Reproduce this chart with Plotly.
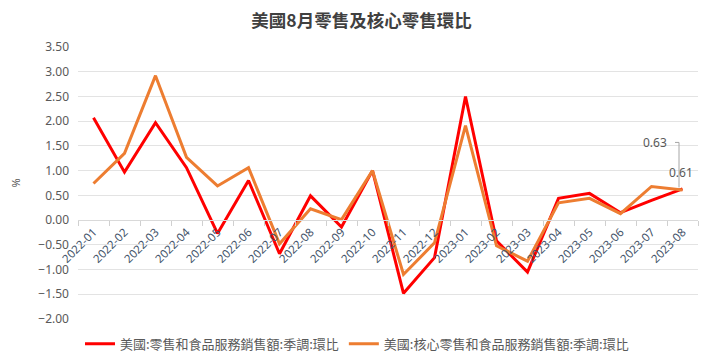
import plotly.graph_objects as go

months = ["2022-01", "2022-02", "2022-03", "2022-04", "2022-05", "2022-06", "2022-07",
          "2022-08", "2022-09", "2022-10", "2022-11", "2022-12", "2023-01", "2023-02",
          "2023-03", "2023-04", "2023-05", "2023-06", "2023-07", "2023-08"]
retail = [2.07, 0.97, 1.97, 1.06, -0.27, 0.80, -0.68, 0.49, -0.14, 1.00,
          -1.48, -0.76, 2.50, -0.42, -1.05, 0.44, 0.54, 0.15, 0.40, 0.63]
core = [0.74, 1.35, 2.92, 1.27, 0.69, 1.06, -0.48, 0.23, 0.01, 1.00,
        -1.10, -0.46, 1.91, -0.52, -0.83, 0.35, 0.44, 0.13, 0.68, 0.61]
ytick_vals = [3.5, 3.0, 2.5, 2.0, 1.5, 1.0, 0.5, 0.0, -0.5, -1.0, -1.5, -2.0]
ytick_text = ["3.50", "3.00", "2.50", "2.00", "1.50", "1.00", "0.50", "0.00",
              "\u22120.50", "\u22121.00", "\u22121.50", "\u22122.00"]
name_retail = "美國:零售和食品服務銷售額:季調:環比"
name_core = "美國:核心零售和食品服務銷售額:季調:環比"
title = "美國8月零售及核心零售環比"

# page body has an 8px default margin: size the figure to fill the rest of the window
OFF = 8
W, H = 715 - OFF, 356 - OFF
ml, mr, mt, mb = 78 - OFF, 17, 47 - OFF, 37
pw, ph = W - ml - mr, H - mt - mb
YMIN, YMAX = -2, 3.5
ppu = ph / (YMAX - YMIN)      # pixels per y unit
ppc = pw / len(months)        # pixels per category

fig = go.Figure()
fig.add_trace(go.Scatter(x=months, y=retail, mode="lines", name=name_retail,
                         line=dict(color="#FF0000", width=3)))
fig.add_trace(go.Scatter(x=months, y=core, mode="lines", name=name_core,
                         line=dict(color="#ED7D31", width=3)))

cjk = "Noto Sans CJK TC"
fig.update_layout(
    width=W, height=H,
    margin=dict(l=ml, r=mr, t=mt, b=mb, autoexpand=False),
    paper_bgcolor="white", plot_bgcolor="white",
    title=dict(text="<b>" + title + "</b>", x=0.5, xanchor="center",
               y=1 - (21 - OFF) / H, yanchor="middle", yref="container",
               font=dict(family=cjk, size=17.5, color="#404040")),
    showlegend=True,
    legend=dict(orientation="h", x=(357 - 78) / pw, xanchor="center", y=-(344 - 319.3) / ph,
                yanchor="middle", font=dict(family=cjk, size=13, color="#595959"),
                itemwidth=30, tracegroupgap=0, bgcolor="rgba(0,0,0,0)"),
    xaxis=dict(type="category", categoryorder="array", categoryarray=months,
               range=[-0.5, len(months) - 0.5], autorange=False,
               anchor="free", position=-YMIN / (YMAX - YMIN), showgrid=False,
               showline=True, linecolor="#d9d9d9", linewidth=1,
               ticks="outside", tickson="boundaries", ticklen=5, tickcolor="#d0d0d0",
               tickangle=-45, tickfont=dict(family="Noto Sans", size=11.5, color="#44546A"),
               zeroline=False),
    yaxis=dict(range=[YMIN, YMAX], tickvals=ytick_vals, ticktext=ytick_text,
               showgrid=True, gridcolor="#e3e3e3", gridwidth=1, zeroline=False,
               tickfont=dict(family="Noto Sans", size=12, color="#595959"),
               ticks="", ticklabelstandoff=8,
               title=dict(text="%", font=dict(family="Noto Sans", size=11, color="#595959"),
                          standoff=22)),
)

# data labels for last point
last = len(months) - 1
fig.add_annotation(x=months[-1], y=retail[-1], text="0.63", showarrow=False,
                   xshift=-27.5, yshift=46.5, font=dict(family="Noto Sans", size=12, color="#595959"))
fig.add_annotation(x=months[-1], y=core[-1], text="0.61", showarrow=False,
                   xshift=-1.5, yshift=17.5, font=dict(family="Noto Sans", size=12, color="#595959"))
lx = last - 3.5 / ppc
fig.add_shape(type="path", xref="x", yref="y",
              path=(f"M {last - 7.5 / ppc},{retail[-1] + 46.5 / ppu} "
                    f"L {lx},{retail[-1] + 46.5 / ppu} L {lx},{retail[-1] + 1.5 / ppu}"),
              line=dict(color="#a6a6a6", width=1))

# right edge of the chart frame
fig.add_shape(type="line", xref="paper", yref="paper",
              x0=1 + (712.5 - 698) / pw, x1=1 + (712.5 - 698) / pw,
              y0=-mb / ph, y1=1 + mt / ph,
              line=dict(color="#d9d9d9", width=1), layer="below")

fig.write_html("out.html")
